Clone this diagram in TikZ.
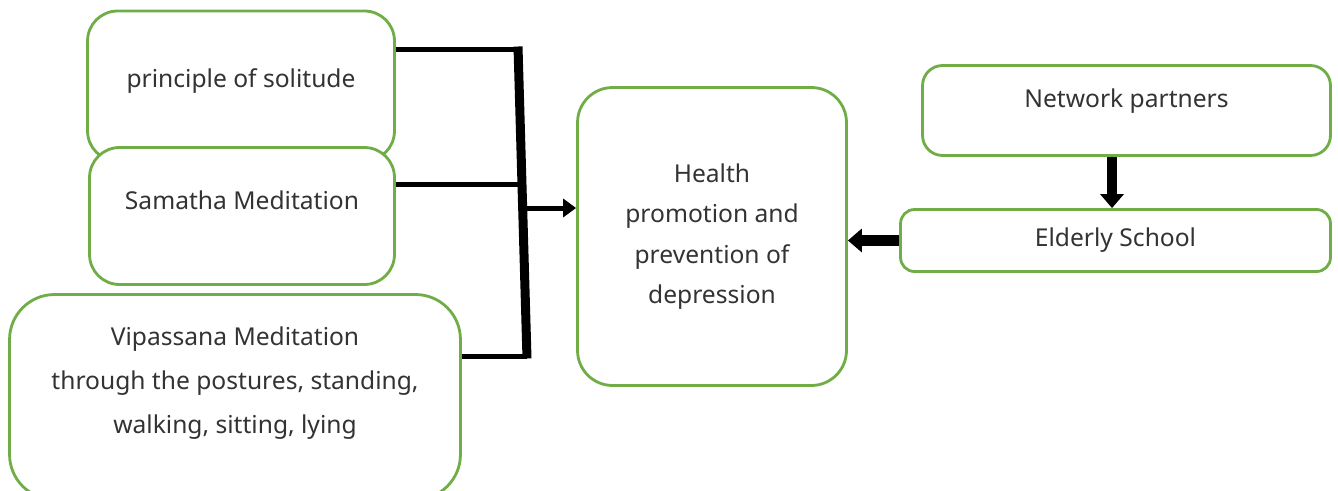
\documentclass[tikz,border=0pt]{standalone}
\usepackage{fontspec}
\setmainfont{Noto Sans}
\usetikzlibrary{arrows.meta,positioning,calc}
\definecolor{boxgreen}{HTML}{70AD47}
\definecolor{inkgray}{HTML}{333333}

\begin{document}
\begin{tikzpicture}[x=0.02cm,y=-0.02cm]

    \tikzstyle{commonNode}=[draw=boxgreen, line width=1.6pt, fill=white, align=center, text=inkgray, font=\fontsize{14}{23}\selectfont]
    \tikzstyle{box}=[commonNode, rectangle, rounded corners=0.6cm]
    \tikzstyle{link}=[line width=0.1cm, draw=black]
    \tikzstyle{bar}=[line width=0.18cm, draw=black]
    \tikzstyle{thinArrow}=[link, -{Triangle[length=0.26cm, width=0.36cm]}]
    \tikzstyle{fatArrow}=[line width=0.21cm, draw=black, -{Triangle[length=0.28cm, width=0.46cm]}]

    \useasboundingbox (0,0) rectangle (1338,490);

    % Left column
    \node at (241,86) [box, minimum width=6.14cm, minimum height=3.0cm, text depth=0.32cm] (solitude) {principle of solitude};
    \node at (242,216) [box, minimum width=6.1cm, minimum height=2.74cm, text depth=0.64cm] (samatha) {Samatha Meditation};
    \node at (235,397) [box, rounded corners=0.9cm, minimum width=9.02cm, minimum height=4.1cm, text depth=0.68cm,
        font=\fontsize{14}{25}\selectfont] (vipassana) {Vipassana Meditation\\ through the postures, standing,\\ walking, sitting, lying};

    % Centre
    \node at (712,236.5) [box, rounded corners=0.7cm, minimum width=5.38cm, minimum height=5.96cm] (health) {Health\\ promotion and\\ prevention of\\ depression};

    % Right column
    \node at (1126.5,110.5) [box, rounded corners=0.4cm, minimum width=8.16cm, minimum height=1.8cm, text depth=0.48cm] (network) {Network partners};
    \node at (1115.5,240.5) [box, rounded corners=0.28cm, minimum width=8.6cm, minimum height=1.24cm] (elderly) {Elderly School};

    % Joining bar
    \coordinate (barTop) at (518,49);
    \coordinate (barMid) at (521,184);
    \coordinate (barBot) at (527,356);
    \coordinate (barOut) at (523,208);
    \coordinate (dropX) at (1112,0);

    \draw[link] (solitude.east |- barTop) -- (barTop);
    \draw[link] (samatha.east |- barMid) -- (barMid);
    \draw[link] (vipassana.east |- barBot) -- (barBot);
    \draw[bar] ([yshift=0.05cm]barTop) -- ([yshift=-0.05cm]barBot);
    \draw[thinArrow] (barOut) -- (health.west |- barOut);

    % Arrows on the right
    \draw[fatArrow] (network.south -| dropX) -- (elderly.north -| dropX);
    \draw[fatArrow] (elderly.west) -- (health.east |- elderly.west);

\end{tikzpicture}
\end{document}
